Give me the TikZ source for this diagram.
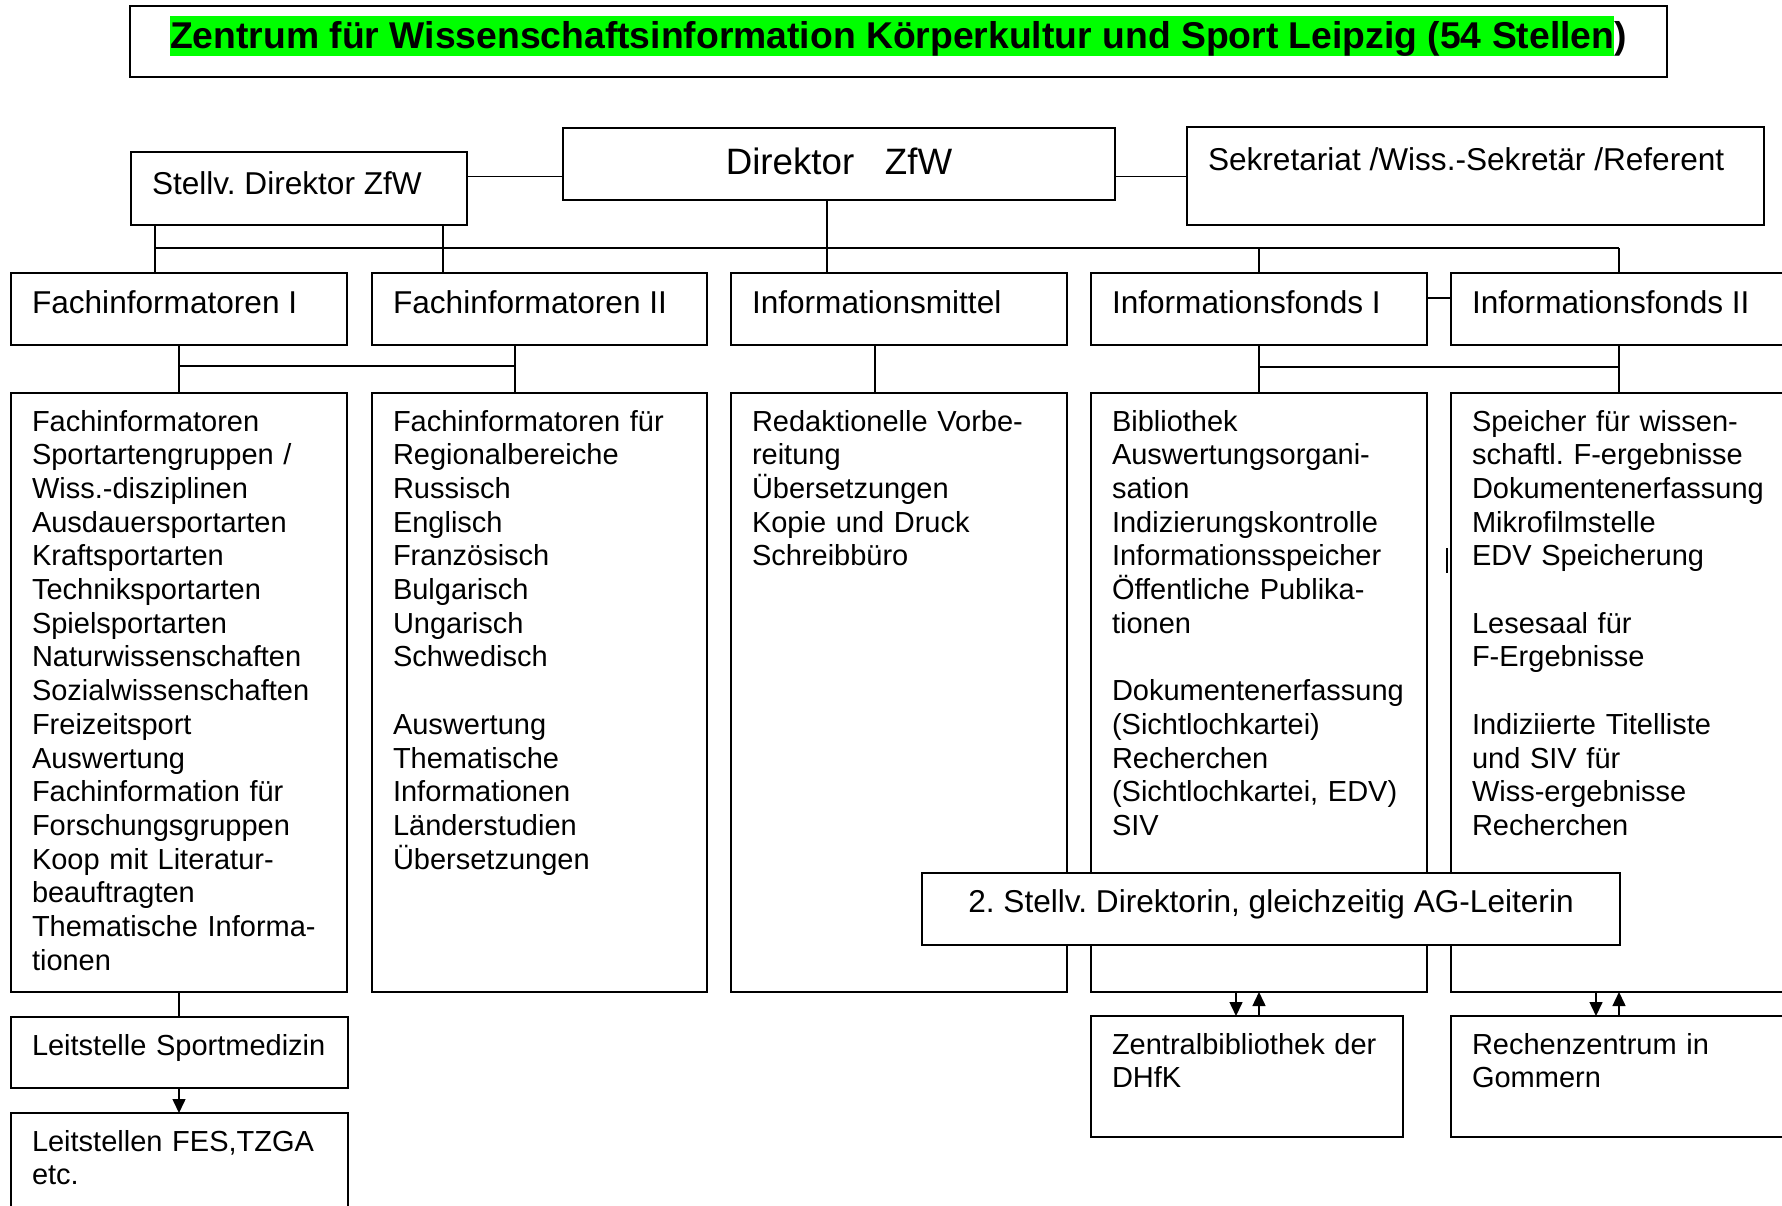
\documentclass[tikz,border=0pt]{standalone}
\usepackage{fontspec}
\setmainfont{Liberation Sans}
\usetikzlibrary{arrows.meta,calc}
\definecolor{hl}{RGB}{0,255,0}
\frenchspacing
\begin{document}
\begin{tikzpicture}[x=1pt,y=-1pt,
  box/.style={draw, line width=1.5pt, fill=white, inner sep=0pt, outer sep=0pt, anchor=north west},
  con/.style={line width=1.5pt},
  arr/.style={line width=1.5pt, -{Triangle[width=13pt,length=14pt]}},
  txt/.style={anchor=base west, inner sep=0pt, outer sep=0pt, align=left, text width=420pt, font=\fontsize{29}{33.7}\selectfont},
  hdr/.style={anchor=base west, inner sep=0pt, outer sep=0pt, font=\fontsize{31.6}{36}\selectfont}]
\useasboundingbox (0,0) rectangle (1782,1205);
\fill[white] (0,0) rectangle (1782,1205);

% title
\node[box, minimum width=1537pt, minimum height=71pt] (title) at (130,6) {};
\node[anchor=base west, inner sep=0pt, fill=hl, text height=32.3pt, text depth=7.7pt,
      font=\fontsize{37.3}{42}\selectfont\bfseries] (titlet) at (170,48.3)
      {Zentrum für Wissenschaftsinformation Körperkultur und Sport Leipzig (54 Stellen};
\node[anchor=base west, inner sep=0pt, font=\fontsize{37.3}{42}\selectfont\bfseries] (titlep) at (titlet.base east) {)};

% top level
\node[box, minimum width=336pt, minimum height=73pt] (st) at (131,152) {};
\node[hdr] (stt) at ($(st.north west)+(21,42)$) {Stellv. Direktor ZfW};
\node[box, minimum width=552pt, minimum height=72pt] (dir) at (563,128) {};
\node[anchor=base, inner sep=0pt, font=\fontsize{36.7}{42}\selectfont] (dirt) at ($(dir.north)+(0,46)$) {Direktor\ \ \ ZfW};
\node[box, minimum width=577pt, minimum height=98pt] (sek) at (1187,127) {};
\node[hdr] (sekt) at ($(sek.north west)+(21,43)$) {Sekretariat /Wiss.-Sekretär /Referent};

% headers
\node[box, minimum width=336pt, minimum height=72pt] (fi) at (11,273) {};
\node[hdr] (fit) at ($(fi.north west)+(21,40)$) {Fachinformatoren I};
\node[box, minimum width=335pt, minimum height=72pt] (fii) at (372,273) {};
\node[hdr] (fiit) at ($(fii.north west)+(21,40)$) {Fachinformatoren II};
\node[box, minimum width=336pt, minimum height=72pt] (im) at (731,273) {};
\node[hdr] (imt) at ($(im.north west)+(21,40)$) {Informationsmittel};
\node[box, minimum width=336pt, minimum height=72pt] (ifi) at (1091,273) {};
\node[hdr] (ifit) at ($(ifi.north west)+(21,40)$) {Informationsfonds I};
\node[box, minimum width=360pt, minimum height=72pt] (ifii) at (1451,273) {};
\node[hdr] (ifiit) at ($(ifii.north west)+(21,40)$) {Informationsfonds II};

% detail boxes
\node[box, minimum width=336pt, minimum height=599pt] (fid) at (11,393) {};
\node[txt] (fidt) at ($(fid.north west)+(21,38)$) {Fachinformatoren\\ Sportartengruppen /\\ Wiss.-disziplinen\\ Ausdauersportarten\\ Kraftsportarten\\ Techniksportarten\\ Spielsportarten\\ Naturwissenschaften\\ Sozialwissenschaften\\ Freizeitsport\\ Auswertung\\ Fachinformation für\\ Forschungsgruppen\\ Koop mit Literatur-\\ beauftragten\\ Thematische Informa-\\ tionen};
\node[box, minimum width=335pt, minimum height=599pt] (fiid) at (372,393) {};
\node[txt] (fiidt) at ($(fiid.north west)+(21,38)$) {Fachinformatoren für\\ Regionalbereiche\\ Russisch\\ Englisch\\ Französisch\\ Bulgarisch\\ Ungarisch\\ Schwedisch\\[33.7pt] Auswertung\\ Thematische\\ Informationen\\ Länderstudien\\ Übersetzungen};
\node[box, minimum width=336pt, minimum height=599pt] (imd) at (731,393) {};
\node[txt] (imdt) at ($(imd.north west)+(21,38)$) {Redaktionelle Vorbe-\\ reitung\\ Übersetzungen\\ Kopie und Druck\\ Schreibbüro};
\node[box, minimum width=336pt, minimum height=599pt] (ifid) at (1091,393) {};
\node[txt] (ifidt) at ($(ifid.north west)+(21,38)$) {Bibliothek\\ Auswertungsorgani-\\ sation\\ Indizierungskontrolle\\ Informationsspeicher\\ Öffentliche Publika-\\ tionen\\[33.7pt] Dokumentenerfassung\\ (Sichtlochkartei)\\ Recherchen\\ (Sichtlochkartei, EDV)\\ SIV};
\node[box, minimum width=360pt, minimum height=599pt] (ifiid) at (1451,393) {};
\node[txt] (ifiidt) at ($(ifiid.north west)+(21,38)$) {Speicher für wissen-\\ schaftl. F-ergebnisse\\ Dokumentenerfassung\\ Mikrofilmstelle\\ EDV Speicherung\\[33.7pt] Lesesaal für\\ F-Ergebnisse\\[33.7pt] Indiziierte Titelliste\\ und SIV für\\ Wiss-ergebnisse\\ Recherchen};
\draw[line width=1.2pt] (1447,548) -- (1447,573);

% 2. Stellv
\node[box, minimum width=698pt, minimum height=72pt] (st2) at (922,873) {};
\node[anchor=base, inner sep=0pt, font=\fontsize{31.6}{36}\selectfont] (st2t) at ($(st2.north)+(0,39.3)$) {2. Stellv. Direktorin, gleichzeitig AG-Leiterin};

% bottom boxes
\node[box, minimum width=312pt, minimum height=121pt] (zb) at (1091,1016) {};
\node[txt] (zbt) at ($(zb.north west)+(21,38)$) {Zentralbibliothek der\\ DHfK};
\node[box, minimum width=360pt, minimum height=121pt] (rz) at (1451,1016) {};
\node[txt] (rzt) at ($(rz.north west)+(21,38)$) {Rechenzentrum in\\ Gommern};
\node[box, minimum width=337pt, minimum height=71pt] (ls) at (11,1017) {};
\node[txt] (lst) at ($(ls.north west)+(21,38)$) {Leitstelle Sportmedizin};
\node[box, minimum width=337pt, minimum height=120pt] (lf) at (11,1113) {};
\node[txt] (lft) at ($(lf.north west)+(21,38)$) {Leitstellen FES,TZGA\\ etc.};

% coordinates
\coordinate (c176) at (0,176.5);
\coordinate (c298) at (0,298);
\coordinate (xa) at (155,248);
\coordinate (xb) at (443,248);
\coordinate (xc) at (827,248);
\coordinate (xd) at (1259,248);
\coordinate (xe) at (1619,248);
\coordinate (ya) at (179,366);
\coordinate (yb) at (515,366);
\coordinate (yc) at (875,366);
\coordinate (yd) at (1259,367);
\coordinate (ye) at (1619,367);
\coordinate (aa) at (1236,0);
\coordinate (ab) at (1259,0);
\coordinate (ac) at (1596,0);
\coordinate (ad) at (1619,0);

% connectors
\draw[con] (st.east |- c176) -- (dir.west |- c176);
\draw[con] (dir.east |- c176) -- (sek.west |- c176);
\draw[con] (st.south -| xa) -- (fi.north -| xa);
\draw[con] (st.south -| xb) -- (fii.north -| xb);
\draw[con] (xa) -- (xe);
\draw[con] (dir.south -| xc) -- (im.north -| xc);
\draw[con] (xd) -- (ifi.north -| xd);
\draw[con] (xe) -- (ifii.north -| xe);
\draw[con] (ifi.east |- c298) -- (ifii.west |- c298);

\draw[con] (fi.south -| ya) -- (fid.north -| ya);
\draw[con] (ya) -- (yb);
\draw[con] (fii.south -| yb) -- (fiid.north -| yb);
\draw[con] (im.south -| yc) -- (imd.north -| yc);
\draw[con] (ifi.south -| yd) -- (ifid.north -| yd);
\draw[con] (yd) -- (ye);
\draw[con] (ifii.south -| ye) -- (ifiid.north -| ye);

\draw[arr] (ifid.south -| aa) -- (zb.north -| aa);
\draw[arr] (zb.north -| ab) -- (ifid.south -| ab);
\draw[arr] (ifiid.south -| ac) -- (rz.north -| ac);
\draw[arr] (rz.north -| ad) -- (ifiid.south -| ad);

\draw[con] (fid.south -| ya) -- (ls.north -| ya);
\draw[arr] (ls.south -| ya) -- (lf.north -| ya);
\end{tikzpicture}
\end{document}
